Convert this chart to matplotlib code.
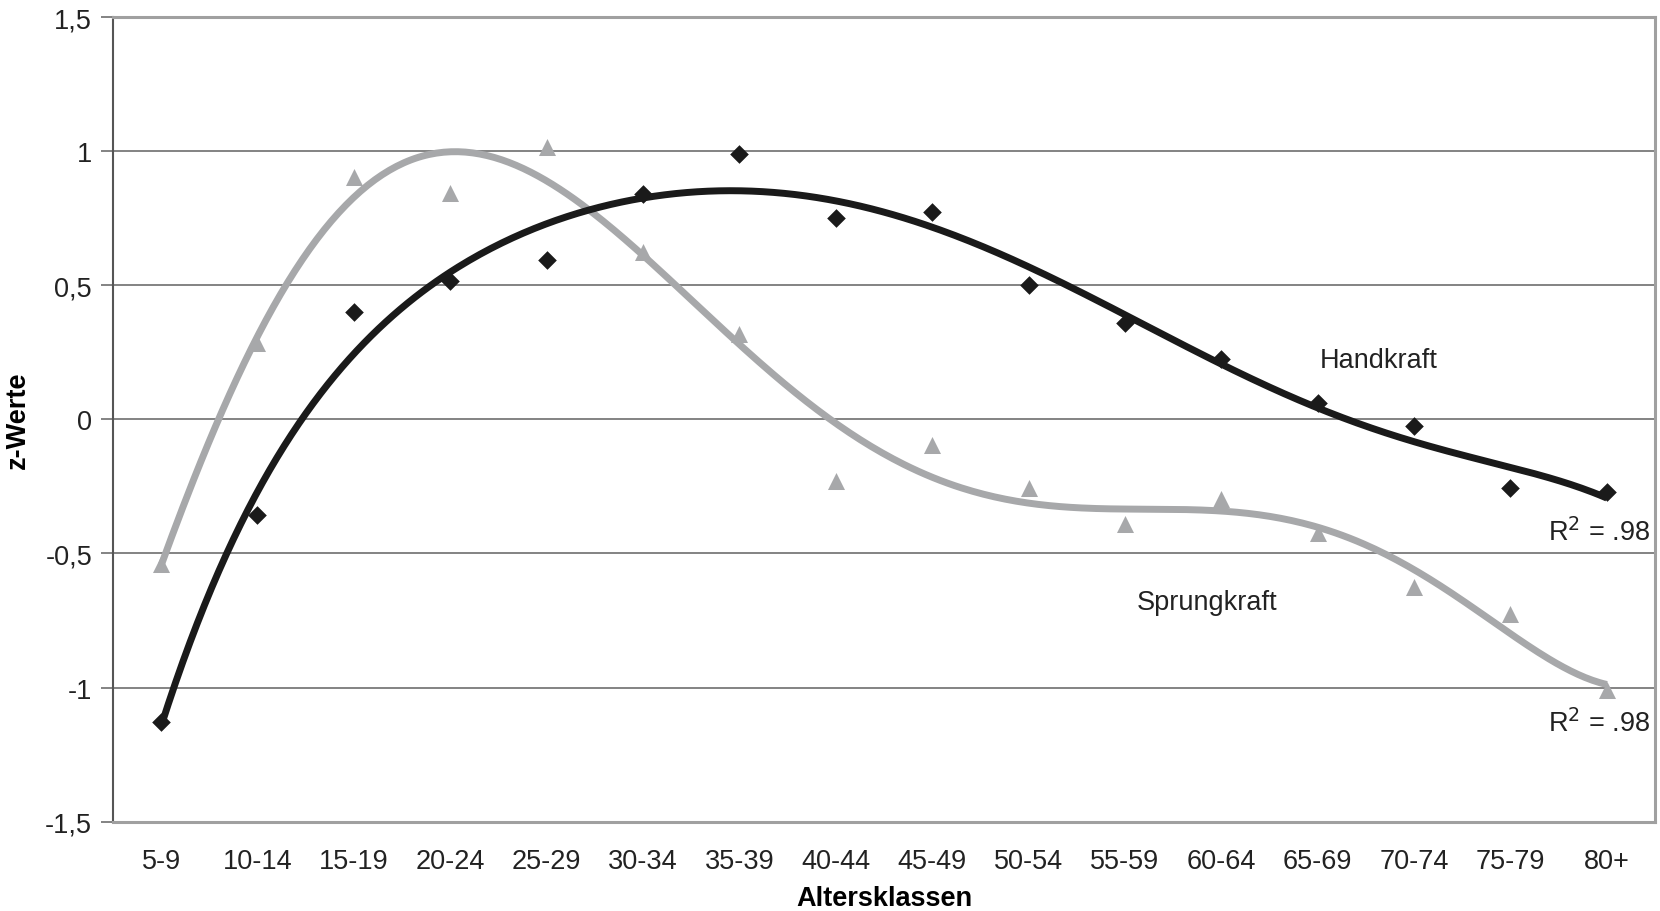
import numpy as np
import matplotlib
matplotlib.use("Agg")
from matplotlib import pyplot as plt

plt.rcParams["font.family"] = ["Liberation Sans", "DejaVu Sans"]

altersklassen = ["5-9", "10-14", "15-19", "20-24", "25-29", "30-34", "35-39", "40-44",
                 "45-49", "50-54", "55-59", "60-64", "65-69", "70-74", "75-79", "80+"]
handkraft = [-1.13, -0.355, 0.40, 0.515, 0.595, 0.84, 0.99, 0.75,
             0.775, 0.50, 0.36, 0.225, 0.06, -0.025, -0.255, -0.27]
sprungkraft = [-0.54, 0.285, 0.905, 0.845, 1.015, 0.625, 0.32, -0.23,
               -0.095, -0.255, -0.39, -0.295, -0.425, -0.625, -0.725, -1.01]

grau = "#a7a8aa"
fs = 19.5

fig = plt.figure(figsize=(16.6, 9.12), dpi=100)
ax = fig.add_axes([0.068, 0.098, 0.929, 0.882])

x = np.arange(len(altersklassen))
xs = np.linspace(0, len(altersklassen) - 1, 400)

# Polynom-Trendlinien (wie in Excel, Ordnung 6)
p_hand = np.polyfit(x, handkraft, 6)
p_sprung = np.polyfit(x, sprungkraft, 6)

ax.plot(xs, np.polyval(p_sprung, xs), color=grau, lw=5, zorder=3, solid_capstyle="butt")
ax.plot(xs, np.polyval(p_hand, xs), color="#1a1a1a", lw=5, zorder=4, solid_capstyle="butt")
ax.scatter(x, sprungkraft, marker="^", s=150, color=grau, zorder=5, linewidths=0)
ax.scatter(x, handkraft, marker="D", s=90, color="#1a1a1a", zorder=6, linewidths=0)

ax.set_xlim(-0.5, len(altersklassen) - 0.5)
ax.set_ylim(-1.5, 1.5)
ax.set_xticks(x)
ax.set_xticklabels(altersklassen)
yt = [-1.5, -1, -0.5, 0, 0.5, 1, 1.5]
ax.set_yticks(yt)
ax.set_yticklabels(["-1,5", "-1", "-0,5", "0", "0,5", "1", "1,5"])
ax.yaxis.grid(True, color="#6e6e6e", lw=1.2)
ax.set_axisbelow(True)

ax.tick_params(axis="x", length=0, pad=19, labelsize=fs, colors="#222222")
ax.tick_params(axis="y", length=9, width=1.2, color="#6e6e6e", pad=6, labelsize=fs, labelcolor="#222222")

for s in ["top", "right", "bottom"]:
    ax.spines[s].set_color("#a0a0a0")
    ax.spines[s].set_linewidth(2.2)
ax.spines["left"].set_color("#555555")
ax.spines["left"].set_linewidth(1.5)

ax.set_xlabel("Altersklassen", fontsize=fs, fontweight="bold", labelpad=8)
ax.set_ylabel("z-Werte", fontsize=fs, fontweight="bold", labelpad=10)

ax.text(12.63, 0.22, "Handkraft", fontsize=fs, color="#222222", ha="center", va="center")
ax.text(10.85, -0.68, "Sprungkraft", fontsize=fs, color="#222222", ha="center", va="center")
ax.text(15.45, -0.42, "R$^2$ = .98", fontsize=fs, color="#222222", ha="right", va="center")
ax.text(15.45, -1.13, "R$^2$ = .98", fontsize=fs, color="#222222", ha="right", va="center")

fig.savefig("out.png", dpi=100)
